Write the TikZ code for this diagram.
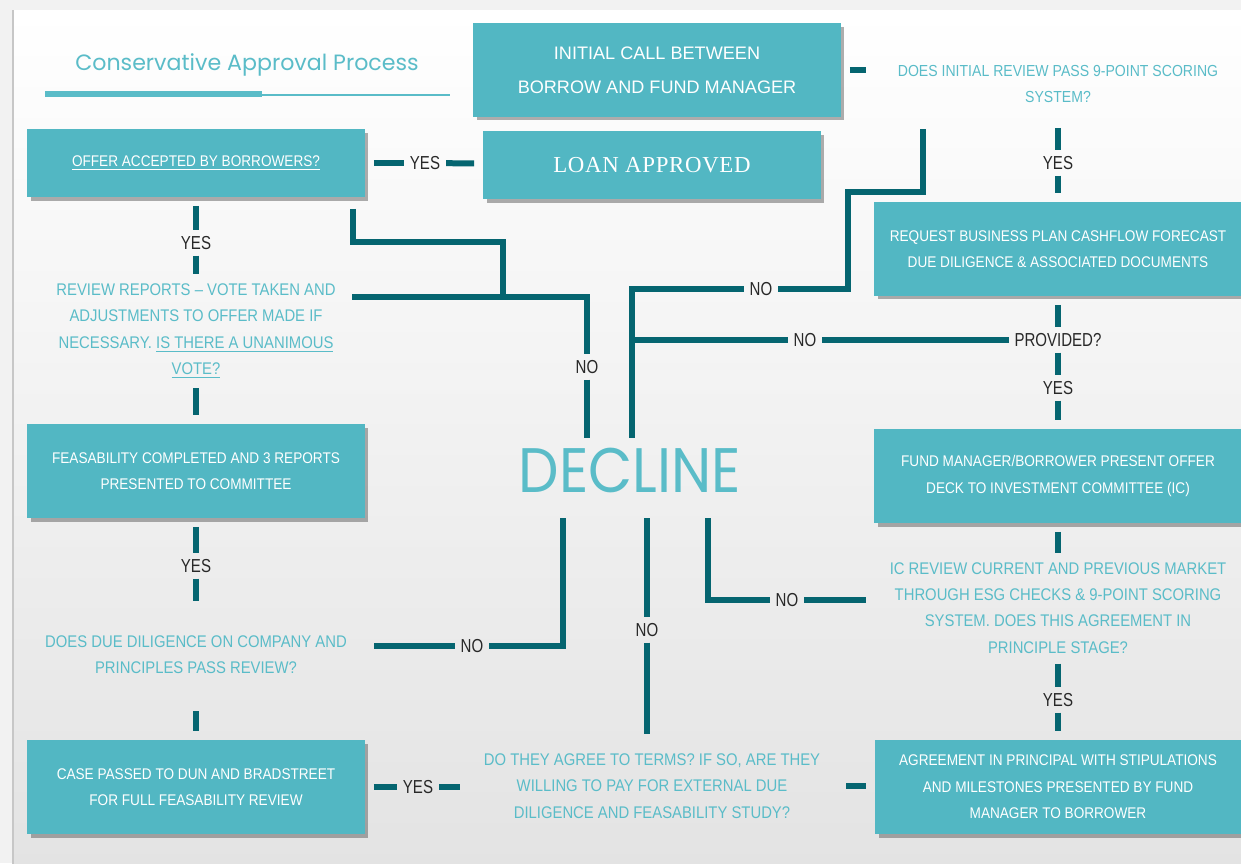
\documentclass[tikz,border=0pt]{standalone}
\usepackage{fontspec}
\setmainfont{Liberation Sans}
\newfontfamily\narrowfont[FakeStretch=0.88]{Liberation Sans}
\newfontfamily\answerfont[FakeStretch=0.8]{Liberation Sans}
\newfontfamily\titlefont{Poppins}
\newfontfamily\declinefont[FakeStretch=0.91]{Poppins}
\newfontfamily\loanfont[LetterSpace=3]{Liberation Serif}
\usetikzlibrary{positioning,shadows}

\definecolor{boxteal}{RGB}{82,183,195}
\definecolor{linkteal}{RGB}{5,101,112}
\definecolor{textteal}{RGB}{90,188,200}
\definecolor{answergray}{RGB}{40,40,40}

\tikzset{
  stepbox/.style={fill=boxteal, text=white, align=center, outer sep=0.18cm,
    minimum width=6.76cm, minimum height=1.88cm,
    font=\narrowfont\fontsize{8.8}{15}\selectfont,
    drop shadow={shadow xshift=0.07cm, shadow yshift=-0.07cm, fill=black!70, opacity=0.45}},
  question/.style={text=textteal, align=center, inner sep=0pt, outer sep=0.2cm,
    font=\narrowfont\fontsize{9.6}{15}\selectfont},
  answer/.style={text=answergray, inner sep=0pt, outer sep=0.12cm,
    font=\answerfont\fontsize{10.7}{12}\selectfont},
  link/.style={draw=linkteal, line width=0.12cm},
}

\begin{document}
\begin{tikzpicture}[x=0.02cm, y=-0.02cm]
  \useasboundingbox (0,0) rectangle (1241,863);

  % page and card
  \fill[black!5] (0,0) rectangle (1241,863);
  \shade[top color=white, bottom color=black!11] (13,10) rectangle (1250,870);
  \draw[black!22, line width=0.05cm] (13,10) -- (13,870);

  % title
  \node[text=textteal, font=\titlefont\fontsize{12.6}{15}\selectfont, inner sep=0pt] (title) at (247,65) {Conservative Approval Process};
  \draw[textteal, line width=0.12cm] (45,94) -- (262,94);
  \draw[textteal, line width=0.04cm] (262,95) -- (450,95);

  % boxes
  \node[stepbox, minimum width=7.36cm, font=\fontsize{10.3}{19.3}\selectfont] (call) at (657,70) {INITIAL CALL BETWEEN\\BORROW AND FUND MANAGER};
  \node[stepbox, minimum height=1.36cm] (offer) at (196,163) {\underline{OFFER ACCEPTED BY BORROWERS?}};
  \node[stepbox, minimum height=1.36cm, font=\loanfont\fontsize{13}{15}\selectfont] (loan) at (652,165) {LOAN APPROVED};
  \node[stepbox, minimum width=7.36cm] (plan) at (1058,249) {REQUEST BUSINESS PLAN CASHFLOW FORECAST\\DUE DILIGENCE \& ASSOCIATED DOCUMENTS};
  \node[stepbox] (feas) at (196,471) {FEASABILITY COMPLETED AND 3 REPORTS\\PRESENTED TO COMMITTEE};
  \node[stepbox, minimum width=7.36cm] (deck) at (1058,476) {FUND MANAGER/BORROWER PRESENT OFFER\\DECK TO INVESTMENT COMMITTEE (IC)};
  \node[stepbox] (dunn) at (196,787) {CASE PASSED TO DUN AND BRADSTREET\\FOR FULL FEASABILITY REVIEW};
  \node[stepbox, minimum width=7.32cm] (principal) at (1058,787) {AGREEMENT IN PRINCIPAL WITH STIPULATIONS\\AND MILESTONES PRESENTED BY FUND\\MANAGER TO BORROWER};

  % questions
  \node[question, font=\narrowfont\fontsize{9.1}{15}\selectfont] (score) at (1058,84) {DOES INITIAL REVIEW PASS 9-POINT SCORING\\SYSTEM?};
  \node[question] (vote) at (196,331) {REVIEW REPORTS – VOTE TAKEN AND\\ADJUSTMENTS TO OFFER MADE IF\\NECESSARY. \underline{IS THERE A UNANIMOUS}\\\underline{VOTE?}};
  \node[question] (diligence) at (196,655) {DOES DUE DILIGENCE ON COMPANY AND\\PRINCIPLES PASS REVIEW?};
  \node[question] (terms) at (652,786) {DO THEY AGREE TO TERMS? IF SO, ARE THEY\\WILLING TO PAY FOR EXTERNAL DUE\\DILIGENCE AND FEASABILITY STUDY?};
  \node[question] (icreview) at (1058,608) {IC REVIEW CURRENT AND PREVIOUS MARKET\\THROUGH ESG CHECKS \& 9-POINT SCORING\\SYSTEM. DOES THIS AGREEMENT IN\\PRINCIPLE STAGE?};
  \node[text=textteal, font=\declinefont\fontsize{35.8}{40}\selectfont, inner sep=0pt, outer sep=0.2cm] (decline) at (630,470) {DECLINE};
  \node[answer] (provided) at (1058,340) {PROVIDED?};

  % answers
  \node[answer] (yesscore) at (1058,163) {YES};
  \node[answer] (yesprovided) at (1058,388) {YES};
  \node[answer] (yesic) at (1058,700) {YES};
  \node[answer] (yesoffer) at (425,163) {YES};
  \node[answer] (yesvote) at (196,243) {YES};
  \node[answer] (yesfeas) at (196,566) {YES};
  \node[answer] (yesdunn) at (418,787) {YES};
  \node[answer] (noplan) at (761,289) {NO};
  \node[answer] (noprovided) at (805,340) {NO};
  \node[answer] (novote) at (587,367) {NO};
  \node[answer] (nodiligence) at (472,646) {NO};
  \node[answer] (noterms) at (647,630) {NO};
  \node[answer] (noic) at (787,600) {NO};

  % right column
  \draw[link, shorten >=0.44cm] (call.east) -- (score.west |- call.east);
  \draw[link, shorten <=0.3cm] (score) -- (yesscore);
  \draw[link] (yesscore) -- (plan);
  \draw[link] (plan) -- (provided);
  \draw[link] (provided) -- (yesprovided);
  \draw[link] (yesprovided) -- (deck);
  \draw[link] (deck) -- (icreview);
  \draw[link] (icreview) -- (yesic);
  \draw[link] (yesic) -- (principal);

  % left column
  \draw[link] (offer) -- (yesoffer);
  \draw[link] (yesoffer) -- (loan);
  \draw[link] (offer) -- (yesvote);
  \draw[link] (yesvote) -- (vote);
  \draw[link] (vote) -- (feas);
  \draw[link] (feas) -- (yesfeas);
  \draw[link, shorten >=0.5cm] (yesfeas) -- (diligence);
  \draw[link, shorten <=0.54cm] (diligence) -- (dunn);
  \draw[link] (dunn) -- (yesdunn);
  \draw[link, shorten >=0.28cm] (yesdunn) -- (yesdunn -| terms.west);
  \draw[link, shorten <=0.32cm] (terms.east) -- (principal.west |- terms.east);

  % to decline
  \draw[link] ([shift={(-21,3)}]offer.south east) |- (503,242) -- (503,300);
  \draw[link] (352,297) -| (novote);
  \draw[link] (novote) -- (novote |- decline.north);
  \draw[link] ([shift={(-67,16)}]decline.south) |- (nodiligence);
  \draw[link, shorten >=0.34cm] (nodiligence) -- (nodiligence -| diligence.east);
  \draw[link] ([shift={(17,16)}]decline.south) -- (noterms);
  \draw[link, shorten >=0.2cm] (noterms) -- (noterms |- terms.north);
  \draw[link] ([shift={(78,16)}]decline.south) |- (noic);
  \draw[link, shorten >=0.28cm] (noic) -- (noic -| icreview.west);
  \draw[link] ([shift={(2,0)}]decline.north) |- (noplan);
  \draw[link] (noplan) -| (848,192) -| (923,129);
  \coordinate (split) at (632,340);
  \draw[link] (split) -- (noprovided);
  \draw[link] (noprovided) -- (provided);
\end{tikzpicture}
\end{document}
